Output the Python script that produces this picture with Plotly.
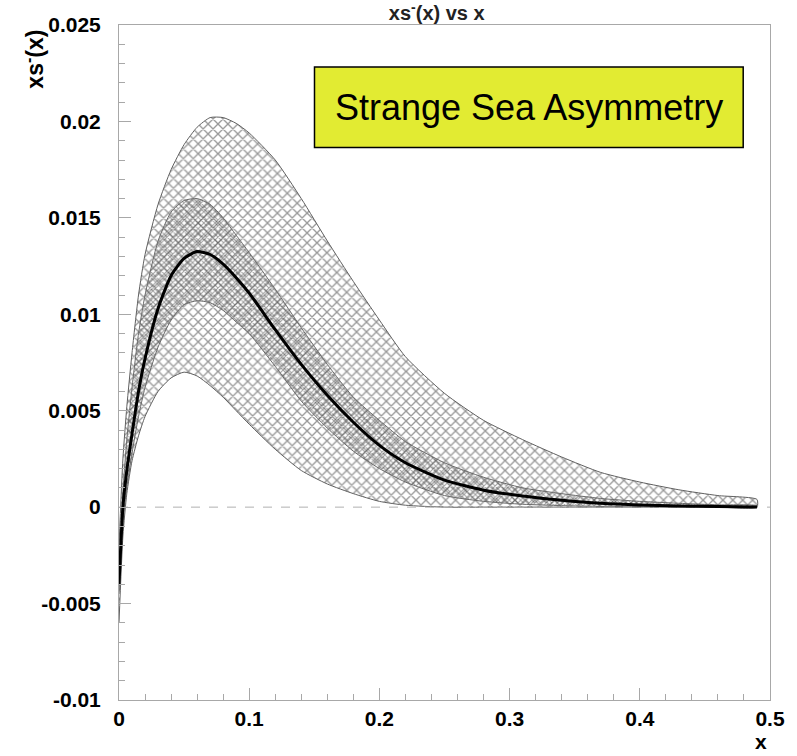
import plotly.graph_objects as go

# x grid shared by the central curve and the two uncertainty bands
x_vals = [0, 0.003, 0.006, 0.01, 0.015, 0.02, 0.03, 0.04, 0.05, 0.06, 0.07, 0.08, 0.09, 0.1,
          0.12, 0.14, 0.16, 0.18, 0.2, 0.22, 0.25, 0.28, 0.31, 0.34, 0.37, 0.4, 0.43, 0.46, 0.49]

# central value of xs^-(x)
central = [-0.0040, 0.0000, 0.0019, 0.0038, 0.0060, 0.0077, 0.0103, 0.0120, 0.0129, 0.01325,
           0.0131, 0.0126, 0.0119, 0.0111, 0.0092, 0.0074, 0.0058, 0.0044, 0.0032, 0.0023,
           0.0014, 0.00088, 0.00058, 0.00036, 0.0002, 0.00011, 0.00006, 0.00003, 0.00001]

# wide (outer) uncertainty band
outer_hi = [-0.0020, 0.0025, 0.0052, 0.0080, 0.0110, 0.0131, 0.0157, 0.0175, 0.0188, 0.0197,
            0.0202, 0.0202, 0.0199, 0.0194, 0.0180, 0.0160, 0.0138, 0.0117, 0.0097, 0.0078,
            0.0059, 0.0045, 0.0035, 0.0026, 0.0018, 0.0013, 0.0009, 0.0006, 0.0004]
outer_lo = [-0.0060, -0.0015, 0.0007, 0.0024, 0.0037, 0.0047, 0.0060, 0.0067, 0.0070, 0.0068,
            0.0063, 0.0057, 0.0050, 0.0043, 0.0030, 0.0019, 0.0012, 0.0007, 0.0003, 0.0001,
            0.0, 0.0, 0.0, 0.0, 0.0, 0.0, 0.0, 0.0, 0.0]

# narrow (inner) uncertainty band
inner_hi = [-0.0035, 0.0008, 0.0035, 0.0062, 0.0090, 0.0110, 0.0138, 0.0153, 0.0159, 0.0160,
            0.0157, 0.0150, 0.0141, 0.0132, 0.0113, 0.0093, 0.0074, 0.0057, 0.0045, 0.0034,
            0.0023, 0.00155, 0.0010, 0.0007, 0.00045, 0.0003, 0.0002, 0.00012, 0.00008]
inner_lo = [-0.0045, -0.0008, 0.0010, 0.0028, 0.0047, 0.0062, 0.0083, 0.0097, 0.0105, 0.0107,
            0.0106, 0.0102, 0.0096, 0.0090, 0.0073, 0.0055, 0.0041, 0.0029, 0.0020, 0.0013,
            0.0006, 0.0003, 0.00015, 0.00008, 0.00004, 0.00002, 0.00001, 0.0, 0.0]

y_ticks = [0.025, 0.02, 0.015, 0.01, 0.005, 0, -0.005, -0.01]
y_ticktext = ["0.025", "0.02", "0.015", "0.01", "0.005", "0", "-0.005", "-0.01"]
x_ticks = [0, 0.1, 0.2, 0.3, 0.4, 0.5]
x_ticktext = ["0", "0.1", "0.2", "0.3", "0.4", "0.5"]

FONT = "Liberation Sans, Arial, Helvetica, sans-serif"
AXIS_GREY = "#a8a8a8"


def band(lo, hi, size, solidity, color, edge):
    xs = list(x_vals) + list(reversed(x_vals))
    ys = list(hi) + list(reversed(lo))
    return go.Scatter(
        x=xs, y=ys, mode="lines", fill="toself",
        line=dict(color=edge, width=1, shape="spline", smoothing=0.6),
        fillcolor="rgba(0,0,0,0)",
        fillpattern=dict(shape="x", size=size, solidity=solidity,
                         fgcolor=color, bgcolor="rgba(0,0,0,0)", fillmode="overlay"),
        hoverinfo="skip", showlegend=False,
    )


fig = go.Figure()
fig.add_trace(band(outer_lo, outer_hi, 7, 0.35, "#333333", "#606060"))
fig.add_trace(band(inner_lo, inner_hi, 4, 0.45, "#3c3c3c", "#6a6a6a"))

# zero reference line
fig.add_trace(go.Scatter(x=[0, 0.5], y=[0, 0], mode="lines",
                         line=dict(color="#b0b0b0", width=1, dash="dash"),
                         hoverinfo="skip", showlegend=False))

fig.add_trace(go.Scatter(x=x_vals, y=central, mode="lines",
                         line=dict(color="black", width=3, shape="spline", smoothing=0.6),
                         showlegend=False))

fig.update_layout(
    width=797, height=756,
    margin=dict(l=119, r=22, t=25, b=56),
    paper_bgcolor="white", plot_bgcolor="white",
    font=dict(family=FONT, color="black"),
    title=dict(text="<b>xs<sup>-</sup>(x) vs x</b>", x=0.548, xanchor="center",
               y=1 - 13 / 756, yanchor="middle", font=dict(size=20, color="#222")),
    showlegend=False,
)

fig.update_xaxes(
    range=[0, 0.5], showgrid=False, zeroline=False,
    showline=True, linecolor=AXIS_GREY, linewidth=1, mirror=True,
    tickmode="array", tickvals=x_ticks, ticktext=x_ticktext,
    ticks="inside", ticklen=12, tickcolor=AXIS_GREY, tickwidth=1,
    minor=dict(dtick=0.02, tick0=0, ticks="inside", ticklen=6, tickcolor=AXIS_GREY, tickwidth=1),
    tickfont=dict(size=21, family=FONT, weight="bold"),
)
fig.update_yaxes(
    range=[-0.01, 0.025], showgrid=False, zeroline=False,
    showline=True, linecolor=AXIS_GREY, linewidth=1, mirror=True,
    tickmode="array", tickvals=y_ticks, ticktext=y_ticktext,
    ticks="inside", ticklen=12, tickcolor=AXIS_GREY, tickwidth=1,
    minor=dict(dtick=0.001, tick0=0, ticks="inside", ticklen=6, tickcolor=AXIS_GREY, tickwidth=1),
    tickfont=dict(size=21, family=FONT, weight="bold"),
    ticklabelstandoff=13,
)

# y-axis title at the top of the axis
fig.add_annotation(text="<b>xs<sup>-</sup>(x)</b>", xref="paper", yref="paper",
                   x=(33 - 119) / 656, y=1 - (59 - 25) / 675, xanchor="center", yanchor="middle",
                   textangle=-90, showarrow=False, font=dict(size=23, family=FONT))
# x-axis title at the right end
fig.add_annotation(text="<b>x</b>", xref="paper", yref="paper",
                   x=(766 - 119) / 656, y=-(741 - 700) / 675, xanchor="center", yanchor="middle",
                   showarrow=False, font=dict(size=21, family=FONT))

# label box
fig.add_shape(type="rect", xref="paper", yref="paper",
              x0=(316 - 119) / 656, x1=(748 - 119) / 656,
              y0=1 - (147.5 - 25) / 675, y1=1 - (67 - 25) / 675,
              fillcolor="#e2eb32", line=dict(color="black", width=1.5), layer="above")
fig.add_annotation(text="Strange Sea Asymmetry", xref="paper", yref="paper",
                   x=(532 - 119) / 656, y=1 - (107 - 25) / 675, xanchor="center", yanchor="middle",
                   showarrow=False, font=dict(size=36, family=FONT, color="black"))

fig.write_html("out.html")
